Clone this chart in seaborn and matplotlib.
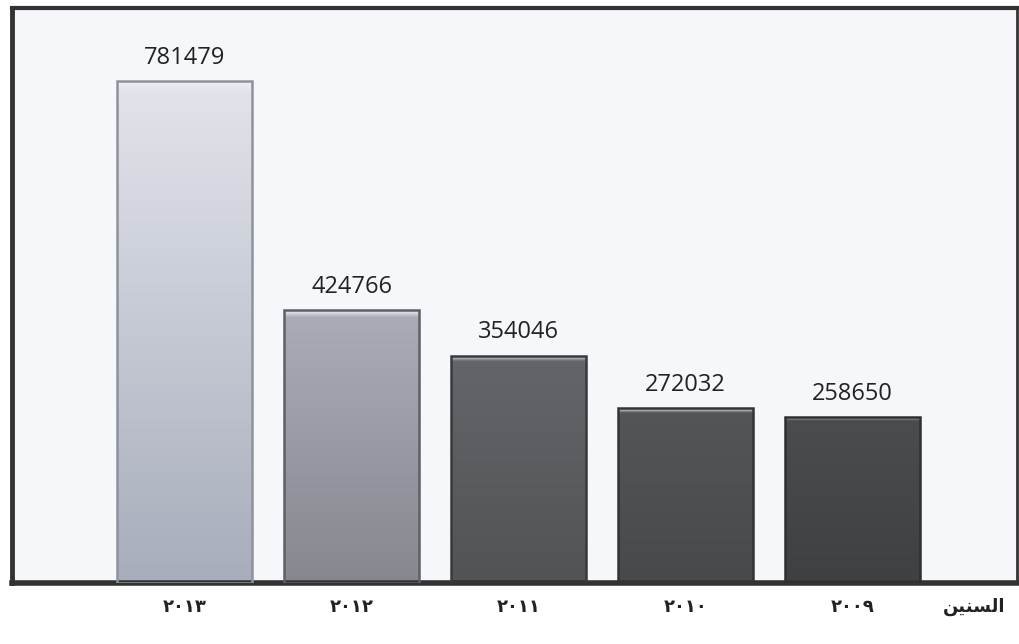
import matplotlib
matplotlib.use('Agg')
import matplotlib.pyplot as plt
import matplotlib.colors as mcolors
import seaborn as sns
import numpy as np
import pandas as pd

sns.set_style('white')
plt.rcParams['font.family'] = ['Open Sans', 'DejaVu Sans']

# data
years = ['٢٠١٣', '٢٠١٢', '٢٠١١', '٢٠١٠', '٢٠٠٩']
values = [781479, 424766, 354046, 272032, 258650]
# top / bottom shade of each bar
top_colors = ['#e1e3ea', '#a9abb7', '#63656a', '#535556', '#4a4c4d']
bottom_colors = ['#a7adbb', '#86888f', '#515356', '#48494a', '#3f4041']
edge_colors = ['#8d929c', '#5e6066', '#38393b', '#333435', '#2e2f30']
# "السنين" in presentation forms, visual order (matplotlib has no Arabic shaping)
axis_label = '\uFEE6\uFEF4\uFEE8\uFEB4\uFEDF\uFE8D'

df = pd.DataFrame({'year': years, 'value': values})

fig = plt.figure(figsize=(10.19, 6.44), dpi=100)
ax = fig.add_axes([0.0118, 0.0947, 0.9862, 0.8929])
ax.set_facecolor('#f6f7fa')

sns.barplot(data=df, x='year', y='value', order=years, hue='year',
            palette=top_colors, width=0.81, legend=False, ax=ax, zorder=2)

bars = [p for p in ax.patches if p.get_height() > 0]

# vertical gradient inside each bar, clipped to the patch, light bevel on top
for patch, c_top, c_bot, c_edge, v in zip(bars, top_colors, bottom_colors, edge_colors, values):
    x0, y0 = patch.get_x(), patch.get_y()
    w, h = patch.get_width(), patch.get_height()
    cmap = mcolors.LinearSegmentedColormap.from_list(
        'g', [(0, c_bot), (0.975, c_top), (1.0, '#eef0f4')])
    grad = np.linspace(0, 1, 512).reshape(-1, 1)
    im = ax.imshow(grad, extent=[x0, x0 + w, y0, y0 + h], origin='lower',
                   aspect='auto', cmap=cmap, zorder=2.5)
    im.set_clip_path(patch)
    patch.set_edgecolor(c_edge)
    patch.set_linewidth(1.8)
    patch.set_zorder(3)
    patch.set_facecolor('none')
    ax.annotate(str(v), (x0 + w / 2, y0 + h), xytext=(0, 8),
                textcoords='offset points', ha='center', va='bottom',
                fontsize=17, color='#222222')

ax.set_xlim(-1.033, 4.985)
ax.set_ylim(0, 895000)
ax.set_yticks([])
ax.set_xlabel('')
ax.set_ylabel('')
ax.tick_params(axis='x', length=0, pad=11)
for lab in ax.get_xticklabels():
    lab.set_family(['DejaVu Sans'])
    lab.set_fontsize(13)
    lab.set_fontweight('bold')
    lab.set_color('#222222')

for side, lw in [('left', 3.5), ('right', 2.0), ('top', 3.0), ('bottom', 4.0)]:
    ax.spines[side].set_visible(True)
    ax.spines[side].set_color('#333333')
    ax.spines[side].set_linewidth(lw)

fig.text(0.956, 0.058, axis_label, family=['DejaVu Sans'], fontsize=13,
         fontweight='bold', color='#222222', ha='center', va='center')

fig.savefig('out.png', dpi=100, facecolor='white')
